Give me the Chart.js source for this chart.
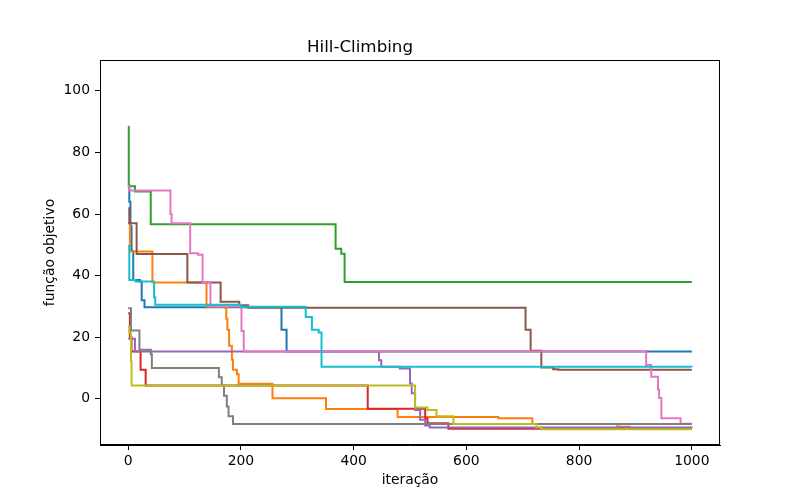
<!DOCTYPE html>
<html>
<head>
<meta charset="utf-8">
<script src="https://cdn.jsdelivr.net/npm/chart.js@4.4.1/dist/chart.umd.min.js"></script>
<style>
html,body{margin:0;padding:0;background:#fff;}
#wrap{width:800px;height:500px;}
</style>
</head>
<body>
<div id="wrap"><canvas id="c" width="800" height="500"></canvas></div>
<script>
// ---- data ----
const titleText = 'Hill-Climbing';
const xLabel = 'iteração';
const yLabel = 'função objetivo';
const xTicks = [0, 200, 400, 600, 800, 1000];
const yTicks = [0, 20, 40, 60, 80, 100];

const run0It  = [0, 2, 4, 6, 9, 21, 24, 29, 272, 281, 1000];
const run0Val = [69.4, 64, 56, 48, 38.6, 38.0, 32.0, 29.7, 22.4, 15.4, 15.4];

const run1It  = [0, 3, 43, 139, 172, 174, 176, 179, 184, 186, 193, 196, 256, 351, 478, 657, 717, 868, 890, 1000];
const run1Val = [57, 47.8, 37.8, 30.0, 29.5, 26, 22.4, 17.2, 12.7, 9.4, 8.0, 4.9, 0.2, -3.3, -5.9, -6.3, -8.2, -9.1, -9.5, -9.5];

const run2It  = [0, 1, 12, 40, 368, 378, 384, 1000];
const run2Val = [88.3, 69.0, 67.3, 56.7, 48.7, 47.1, 37.9, 37.9];

const run3It  = [0, 3, 6, 22, 31, 425, 527, 531, 568, 1000];
const run3Val = [27.8, 20.0, 15.4, 9.4, 4.3, -3.2, -6.3, -7.9, -9.7, -9.7];

const run4It  = [0, 12, 445, 449, 482, 500, 503, 509, 518, 527, 535, 1000];
const run4Val = [19.5, 15.4, 12.5, 10.4, 9.8, 5.0, 1.8, -3.6, -6.8, -8.7, -9.3, -9.4];

const run5It  = [0, 2, 15, 105, 164, 197, 213, 705, 714, 733, 754, 763, 1000];
const run5Val = [61.9, 57.0, 47.0, 37.8, 31.5, 30.4, 29.6, 22.4, 15.6, 10.2, 9.6, 9.4, 9.4];

const run6It  = [0, 2, 75, 77, 110, 124, 132, 146, 201, 205, 919, 928, 940, 942, 946, 980, 1000];
const run6Val = [69.2, 67.6, 60.0, 57.0, 47.3, 46.8, 37.8, 30.0, 22.0, 15.4, 11.0, 7.2, 3.0, 0.3, -6.3, -8.1, -8.1];

const run7It  = [0, 5, 20, 40, 42, 161, 166, 170, 175, 178, 186, 1000];
const run7Val = [29.4, 22.2, 15.9, 14.5, 10.0, 7.0, 4.5, 1.0, -2.5, -5.7, -8.2, -8.2];

const run8It  = [0, 2, 5, 6, 509, 531, 547, 577, 724, 733, 1000];
const run8Val = [23.3, 21.3, 12.0, 4.3, -2.8, -3.6, -5.7, -8.2, -9.2, -9.9, -9.9];

const run9It  = [0, 2, 13, 46, 48, 200, 315, 326, 338, 343, 1000];
const run9Val = [49.7, 38.6, 38.1, 33.0, 30.5, 29.9, 26.6, 22.4, 21.5, 10.4, 10.3];

const runIts  = [run0It, run1It, run2It, run3It, run4It, run5It, run6It, run7It, run8It, run9It];
const runVals = [run0Val, run1Val, run2Val, run3Val, run4Val, run5Val, run6Val, run7Val, run8Val, run9Val];
const palette = ['#1f77b4','#ff7f0e','#2ca02c','#d62728','#9467bd','#8c564b','#e377c2','#7f7f7f','#bcbd22','#17becf'];

const datasets = runIts.map((its, i) => ({
  label: 'run ' + i,
  data: its.map((x, k) => ({x: x, y: runVals[i][k]})),
  borderColor: palette[i],
  backgroundColor: palette[i],
  borderWidth: 2,
  pointRadius: 0,
  stepped: 'before',
  fill: false,
  order: runIts.length - 1 - i
}));

const frame = {
  id: 'frame',
  afterDraw(chart) {
    const a = chart.chartArea, ctx = chart.ctx;
    ctx.save();
    ctx.strokeStyle = '#000';
    ctx.lineWidth = 1;
    ctx.strokeRect(Math.round(a.left) + 0.5, Math.round(a.top) + 0.5,
                   Math.round(a.right - a.left) - 1, Math.round(a.bottom - a.top) - 1);
    ctx.restore();
  }
};

Chart.defaults.font.family = '"DejaVu Sans", sans-serif';
Chart.defaults.color = '#000';

new Chart(document.getElementById('c'), {
  type: 'line',
  data: { datasets },
  plugins: [frame],
  options: {
    responsive: false,
    animation: false,
    layout: { padding: { left: 0, right: 80, top: 0, bottom: 0 } },
    plugins: {
      legend: { display: false },
      tooltip: { enabled: false },
      title: {
        display: true, text: titleText,
        font: { size: 16.7, weight: 'normal' },
        padding: { top: 38, bottom: 2 }
      }
    },
    scales: {
      x: {
        type: 'linear', min: -50, max: 1050,
        afterBuildTicks: s => { s.ticks = xTicks.map(v => ({value: v})); },
        afterFit: s => { s.height = 55; },
        grid: { display: true, drawOnChartArea: false, drawTicks: true, tickLength: 5, color: '#000', tickColor: '#000' },
        border: { display: true, color: '#000', width: 1 },
        ticks: { font: { size: 13.9 }, padding: 3, maxRotation: 0, autoSkip: false, callback: v => String(v) },
        title: { display: true, text: xLabel, font: { size: 13.9 }, padding: { top: 0, bottom: 11.7 } }
      },
      y: {
        type: 'linear', min: -15, max: 110,
        afterBuildTicks: s => { s.ticks = yTicks.map(v => ({value: v})); },
        afterFit: s => { s.width = 100; },
        grid: { display: true, drawOnChartArea: false, drawTicks: true, tickLength: 5, color: '#000', tickColor: '#000' },
        border: { display: true, color: '#000', width: 1 },
        ticks: { font: { size: 13.9 }, padding: 5, autoSkip: false, callback: v => String(v) },
        title: { display: true, text: yLabel, font: { size: 13.9 }, padding: { top: 41.7, bottom: 0 } }
      }
    }
  }
});
</script>
</body>
</html>
